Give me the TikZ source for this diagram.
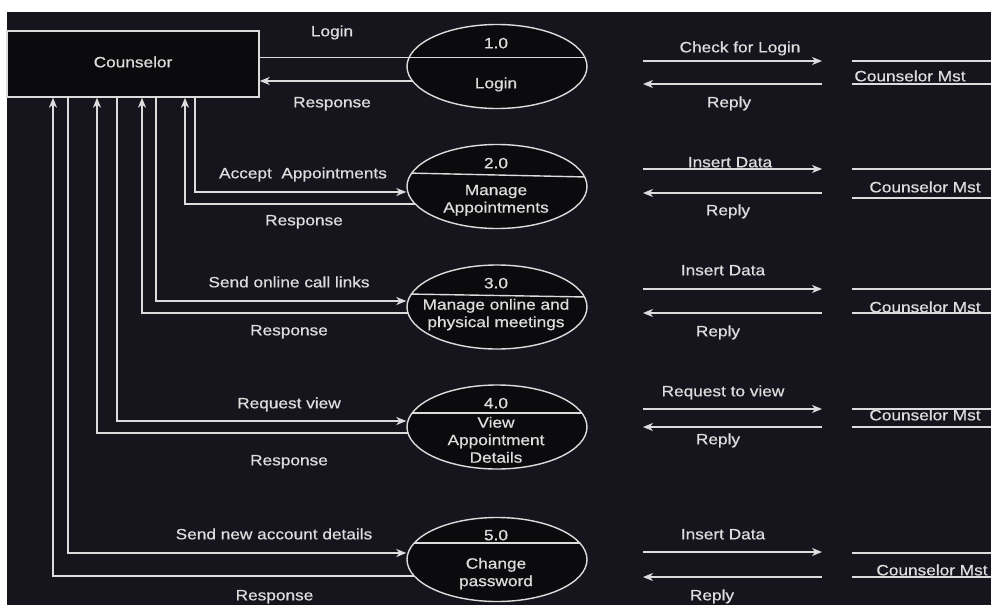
\documentclass[tikz,border=0pt]{standalone}
\usepackage{fontspec}
\setmainfont{Liberation Sans}[FakeStretch=1.15,FakeBold=0.6]
\usetikzlibrary{arrows.meta,shapes.geometric}
\pgfdeclarelayer{backdrop}
\pgfdeclarelayer{flows}
\pgfsetlayers{backdrop,flows,main}

\definecolor{canvas}{HTML}{16141C}
\definecolor{boxfill}{HTML}{0B0A0D}
\definecolor{ink}{HTML}{DCDCDC}
\definecolor{txt}{HTML}{DDDDDD}

\tikzset{
  wire/.style={draw=ink, line width=1.4pt},
  flow/.style={wire, -{Stealth[length=10pt,width=8pt,inset=3pt]}},
  entity/.style={draw=ink, line width=1.4pt, fill=boxfill, minimum width=252pt,
    minimum height=66pt, inner sep=0pt, text=txt, text height=10.7pt, text depth=4pt,
    font=\fontsize{15pt}{17.5pt}\selectfont},
  process/.style={ellipse, draw=ink, line width=1.4pt, fill=boxfill,
    minimum width=180pt, minimum height=84pt, inner sep=0pt},
  divide/.style 2 args={path picture={\draw[wire]
    ([yshift=#1]path picture bounding box.west) -- ([yshift=#2]path picture bounding box.east);}},
  lbl/.style={text=txt, font=\fontsize{15pt}{17.5pt}\selectfont, inner sep=0pt,
    text height=10.7pt, text depth=0pt},
  multi/.style={text=txt, font=\fontsize{15pt}{17.5pt}\selectfont, inner sep=0pt,
    align=center, anchor=north},
}

\begin{document}
\begin{tikzpicture}[x=1pt,y=-1pt]
\useasboundingbox (0,0) rectangle (991,605);
\begin{pgfonlayer}{backdrop}
  \fill[white] (0,0) rectangle (991,605);
  \fill[canvas] (7,12) rectangle (991,605);
\end{pgfonlayer}

% external entity
\node[entity] (counselor) at (133,64) {Counselor};

% processes with their dividing lines
\node[process, divide={9pt}{9pt}]       (p1) at (497,66.5)  {};
\node[process, divide={13.5pt}{9.5pt}]  (p2) at (497,186.5) {};
\node[process, divide={13pt}{10pt}]     (p3) at (497,307)   {};
\node[process, divide={14pt}{14pt}]     (p4) at (497,427)   {};
\node[process, divide={16.5pt}{16.5pt}] (p5) at (497,559.5) {};

\node[lbl] (n1) at (496,43)  {1.0};
\node[lbl] (n2) at (496,163) {2.0};
\node[lbl] (n3) at (496,283) {3.0};
\node[lbl] (n4) at (496,403) {4.0};
\node[lbl] (n5) at (496,535) {5.0};

\node[lbl]   (t1) at (496,83)    {Login};
\node[multi] (t2) at (496,184.6) {Manage\\Appointments};
\node[multi] (t3) at (496,298.6) {Manage online and\\physical meetings};
\node[multi] (t4) at (496,416.6) {View\\Appointment\\Details};
\node[multi] (t5) at (496,557.6) {Change\\password};

% data flows between the counselor and the processes
\begin{pgfonlayer}{flows}
  \draw[wire] (counselor.east |- 0,57.5) -- (p1.center |- 0,57.5);
  \draw[flow] (p1.center |- 0,81) -- (counselor.east |- 0,81);

  \draw[flow] (counselor.south -| 195,0) |- (p2.west |- 0,192);
  \draw[flow] (p2.center |- 0,204) -| (counselor.south -| 185,0);

  \draw[flow] (counselor.south -| 156,0) |- (p3.west |- 0,301);
  \draw[flow] (p3.center |- 0,313) -| (counselor.south -| 142,0);

  \draw[flow] (counselor.south -| 117,0) |- (p4.west |- 0,421);
  \draw[flow] (p4.center |- 0,433) -| (counselor.south -| 97,0);

  \draw[flow] (counselor.south -| 68,0) |- (p5.west |- 0,553);
  \draw[flow] (p5.center |- 0,576) -| (counselor.south -| 53,0);
\end{pgfonlayer}

\node[lbl] (l1a) at (332,31)  {Login};
\node[lbl] (l1b) at (332,102) {Response};
\node[lbl] (l2a) at (303,173) {Accept\ \ Appointments};
\node[lbl] (l2b) at (304,220) {Response};
\node[lbl] (l3a) at (289,282) {Send online call links};
\node[lbl] (l3b) at (289,330) {Response};
\node[lbl] (l4a) at (289,403) {Request view};
\node[lbl] (l4b) at (289,460) {Response};
\node[lbl] (l5a) at (274,534) {Send new account details};
\node[lbl] (l5b) at (274.5,595) {Response};

% flows to and from the data stores
\foreach \i/\ya/\yb in {1/61/84, 2/169/193, 3/289/313, 4/409/427, 5/552/577}{
  \coordinate (go\i)  at (643,\ya);
  \coordinate (to\i)  at (822,\ya);
  \coordinate (rb\i)  at (822,\yb);
  \coordinate (re\i)  at (643,\yb);
  \draw[flow] (go\i) -- (to\i);
  \draw[flow] (rb\i) -- (re\i);
}

\node[lbl] (q1) at (740,47)  {Check for Login};
\node[lbl] (r1) at (729,102) {Reply};
\node[lbl] (q2) at (730,162) {Insert Data};
\node[lbl] (r2) at (728,210) {Reply};
\node[lbl] (q3) at (723,270) {Insert Data};
\node[lbl] (r3) at (718,331) {Reply};
\node[lbl] (q4) at (723,391) {Request to view};
\node[lbl] (r4) at (718,439) {Reply};
\node[lbl] (q5) at (723,534) {Insert Data};
\node[lbl] (r5) at (712,595) {Reply};

% data stores (open-ended)
\foreach \i/\ya/\yb in {1/61/84, 2/169/198, 3/289/313, 4/409/427, 5/553/577}{
  \coordinate (st\i a) at (852,\ya);
  \coordinate (st\i b) at (991,\ya);
  \coordinate (sb\i a) at (852,\yb);
  \coordinate (sb\i b) at (991,\yb);
  \draw[wire] (st\i a) -- (st\i b);
  \draw[wire] (sb\i a) -- (sb\i b);
}
\node[lbl] (s1) at (910,76)  {Counselor Mst};
\node[lbl] (s2) at (925,187) {Counselor Mst};
\node[lbl] (s3) at (925,307) {Counselor Mst};
\node[lbl] (s4) at (925,415) {Counselor Mst};
\node[lbl] (s5) at (932,570) {Counselor Mst};
\end{tikzpicture}
\end{document}
